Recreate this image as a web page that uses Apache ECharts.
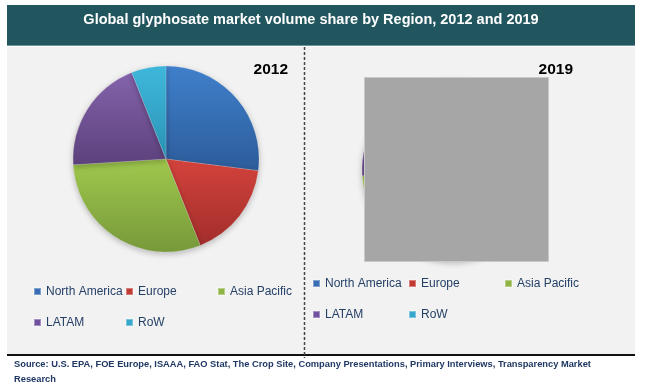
<!DOCTYPE html>
<html><head><meta charset="utf-8">
<script src="https://cdn.jsdelivr.net/npm/echarts@6/dist/echarts.min.js"></script>
<style>html,body{margin:0;padding:0;background:#fff}#c{width:650px;height:392px}</style>
</head><body><div id="c"></div>
<script>
const regions = ['North America', 'Europe', 'Asia Pacific', 'LATAM', 'RoW'];
const share2012 = [27, 17, 30, 20, 6];
const share2019 = [26, 16, 32, 20, 6];
const years = ['2012', '2019'];
const titleText = 'Global glyphosate market volume share by Region, 2012 and 2019';
const sourceText = 'Source: U.S. EPA, FOE Europe, ISAAA, FAO Stat, The Crop Site, Company Presentations, Primary Interviews, Transparency Market\nResearch';

const topColors = ['#4080cc', '#d4433d', '#a0c84e', '#8463ab', '#3fb8dc'];
const botColors = ['#2c5c9a', '#a22d2a', '#77993a', '#5c417c', '#2a93b4'];
const iconColors = ['#3a6db3', '#c23a34', '#8fb446', '#7052a0', '#37a7cb'];
const FONT = '"Liberation Sans", Arial, sans-serif';

function grad(i) {
  return new echarts.graphic.LinearGradient(0, 0, 0, 1, [
    {offset: 0, color: topColors[i]}, {offset: 1, color: botColors[i]}
  ]);
}
function pieData(vals) {
  return regions.map((r, i) => ({name: r, value: vals[i], itemStyle: {color: grad(i)}}));
}

const legendPos = [
  [[33, 285], [125, 285], [217, 285], [33, 316], [125, 316]],
  [[312, 277], [408, 277], [504, 277], [312, 308], [408, 308]]
];
const legends = [];
legendPos.forEach(side => side.forEach((p, i) => {
  legends.push({
    data: [{name: regions[i], itemStyle: {color: iconColors[i]}}],
    left: p[0], top: p[1], padding: 0,
    icon: 'rect', itemWidth: 7, itemHeight: 7,
    selectedMode: false,
    textStyle: {fontFamily: FONT, fontSize: 12, color: '#243f66', lineHeight: 13}
  });
}));

const chart = echarts.init(document.getElementById('c'), null, {renderer: 'canvas'});
chart.setOption({
  backgroundColor: '#ffffff',
  animation: false,
  graphic: [
    {type: 'rect', shape: {x: 7, y: 5, width: 628, height: 40}, style: {fill: '#22565f'}, z: 0},
    {type: 'rect', shape: {x: 7, y: 45, width: 628, height: 1}, style: {fill: '#6d949d'}, z: 0},
    {type: 'rect', shape: {x: 7, y: 47, width: 628, height: 307}, style: {fill: '#f2f2f2'}, z: 0},
    {type: 'line', shape: {x1: 7, y1: 355, x2: 635, y2: 355}, style: {stroke: '#111', lineWidth: 2}, z: 1},
    {type: 'line', shape: {x1: 304.5, y1: 47, x2: 304.5, y2: 358}, style: {stroke: '#444', lineWidth: 1.5, lineDash: [3, 2]}, z: 1},
    {type: 'rect', shape: {x: 364.5, y: 77.5, width: 184, height: 184}, style: {fill: '#a6a6a6', stroke: '#c9c9c9', lineWidth: 1}, z: 100}
  ],
  title: [
    {text: titleText, left: 311, top: 12, textAlign: 'center', padding: 0,
     textStyle: {color: '#ffffff', fontFamily: FONT, fontWeight: 'bold', fontSize: 14.5}},
    {text: years[0], left: 288, top: 62, textAlign: 'right', padding: 0,
     textStyle: {color: '#000', fontFamily: FONT, fontWeight: 'bold', fontSize: 15.5}},
    {text: years[1], left: 573, top: 62, textAlign: 'right', padding: 0,
     textStyle: {color: '#000', fontFamily: FONT, fontWeight: 'bold', fontSize: 15.5}},
    {text: sourceText, left: 14, top: 357, padding: 0,
     textStyle: {color: '#1f3864', fontFamily: FONT, fontWeight: 'bold', fontSize: 9.3, lineHeight: 15}}
  ],
  legend: legends,
  series: [
    {type: 'pie', name: years[0], center: [166, 159], radius: 93, startAngle: 90,
     label: {show: false}, labelLine: {show: false}, silent: true,
     itemStyle: {borderColor: 'rgba(255,255,255,0.35)', borderWidth: 0.5, shadowBlur: 6, shadowColor: 'rgba(0,0,0,0.25)', shadowOffsetY: 2},
     data: pieData(share2012)},
    {type: 'pie', name: years[1], center: [453, 170], radius: 91, startAngle: 90,
     label: {show: false}, labelLine: {show: false}, silent: true,
     itemStyle: {borderColor: 'rgba(255,255,255,0.35)', borderWidth: 0.5, shadowBlur: 6, shadowColor: 'rgba(0,0,0,0.25)', shadowOffsetY: 2},
     data: pieData(share2019)}
  ]
});
</script>
</body></html>
